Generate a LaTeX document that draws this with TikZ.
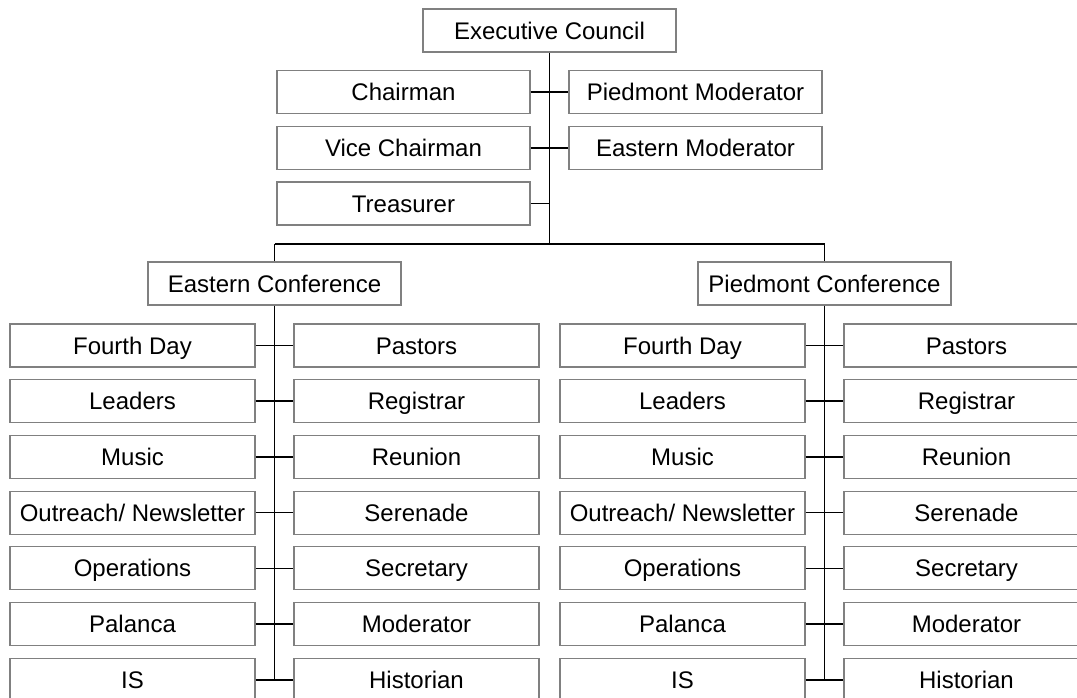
\documentclass[tikz,border=0pt]{standalone}
\usepackage{fontspec}
\setmainfont{Liberation Sans}
\begin{document}
\begin{tikzpicture}[x=1pt,y=-1pt,
  box/.style={draw=black!50,line width=1.1pt,fill=white,minimum width=253pt,minimum height=43pt,inner sep=0pt,
    text height=17.2pt,text depth=0pt,font=\fontsize{24}{27}\selectfont},
  sbox/.style={box,minimum width=245pt},
  link/.style={draw=black,line width=1.6pt}]
\useasboundingbox (0,0) rectangle (1077,698);
\fill[white] (0,0) rectangle (1077,698);
% top level
\node[box] (exec) at (549.5,30.5) {Executive Council};
\node[box] (chair) at (403.5,92) {Chairman};
\node[box] (vice) at (403.5,148) {Vice Chairman};
\node[box] (treas) at (403.5,203.5) {Treasurer};
\node[box] (pmod) at (695.5,92) {Piedmont Moderator};
\node[box] (emod) at (695.5,148) {Eastern Moderator};
\coordinate (busC) at (549.5,244);
\coordinate (busE) at (274.5,244);
\coordinate (busP) at (824.5,244);
\node[box] (ec) at (274.5,283.5) {Eastern Conference};
\node[box] (pc) at (824.5,283.5) {Piedmont Conference};
% eastern rows
\node[sbox] (eL0) at (132.5,345.5) {Fourth Day};
\node[sbox] (eL1) at (132.5,401.2) {Leaders};
\node[sbox] (eL2) at (132.5,456.9) {Music};
\node[sbox] (eL3) at (132.5,512.6) {Outreach/ Newsletter};
\node[sbox] (eL4) at (132.5,568.3) {Operations};
\node[sbox] (eL5) at (132.5,624) {Palanca};
\node[sbox] (eL6) at (132.5,679.7) {IS};
\node[sbox] (eR0) at (416.5,345.5) {Pastors};
\node[sbox] (eR1) at (416.5,401.2) {Registrar};
\node[sbox] (eR2) at (416.5,456.9) {Reunion};
\node[sbox] (eR3) at (416.5,512.6) {Serenade};
\node[sbox] (eR4) at (416.5,568.3) {Secretary};
\node[sbox] (eR5) at (416.5,624) {Moderator};
\node[sbox] (eR6) at (416.5,679.7) {Historian};
% piedmont rows
\node[sbox] (pL0) at (682.5,345.5) {Fourth Day};
\node[sbox] (pL1) at (682.5,401.2) {Leaders};
\node[sbox] (pL2) at (682.5,456.9) {Music};
\node[sbox] (pL3) at (682.5,512.6) {Outreach/ Newsletter};
\node[sbox] (pL4) at (682.5,568.3) {Operations};
\node[sbox] (pL5) at (682.5,624) {Palanca};
\node[sbox] (pL6) at (682.5,679.7) {IS};
\node[sbox] (pR0) at (966.5,345.5) {Pastors};
\node[sbox] (pR1) at (966.5,401.2) {Registrar};
\node[sbox] (pR2) at (966.5,456.9) {Reunion};
\node[sbox] (pR3) at (966.5,512.6) {Serenade};
\node[sbox] (pR4) at (966.5,568.3) {Secretary};
\node[sbox] (pR5) at (966.5,624) {Moderator};
\node[sbox] (pR6) at (966.5,679.7) {Historian};
% connectors
\draw[link] (exec.south) -- (busC);
\draw[link] (chair.east) -- (pmod.west);
\draw[link] (vice.east) -- (emod.west);
\draw[link] (treas.east) -- (treas.east -| exec.south);
\draw[link] (busE) -- (busP);
\draw[link] (busE) -- (ec.north);
\draw[link] (busP) -- (pc.north);
\draw[link] (ec.south) -- (ec.south |- eL6.east);
\draw[link] (pc.south) -- (pc.south |- pL6.east);
\foreach \k in {0,...,6}{
  \draw[link] (eL\k.east) -- (eR\k.west);
  \draw[link] (pL\k.east) -- (pR\k.west);
}
\end{tikzpicture}
\end{document}
